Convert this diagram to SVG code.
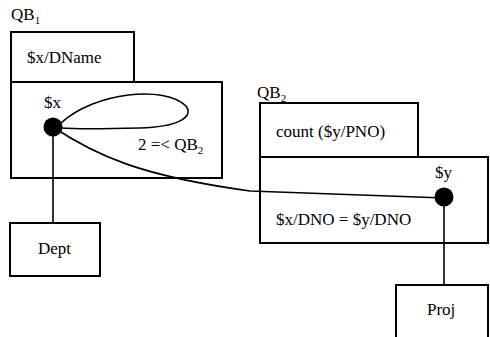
<svg xmlns="http://www.w3.org/2000/svg" width="490" height="337" viewBox="0 0 490 337">
<style>
text{font-family:"Liberation Serif","Times New Roman",serif;font-size:17px;fill:#000}
.box{fill:none;stroke:#000;stroke-width:2}
.ln{fill:none;stroke:#000;stroke-width:1.6}
.sub{font-size:11px}
</style>
<rect width="490" height="337" fill="#fff"/>
<g id="QB1">
<text x="11" y="20">QB<tspan class="sub" dy="4">1</tspan></text>
<rect class="box" x="11" y="32" width="123" height="50"/>
<text x="27" y="63">$x/DName</text>
<rect class="box" x="11" y="82" width="211" height="96"/>
<text x="44" y="108">$x</text>
<text x="138" y="150">2 =&lt; QB<tspan class="sub" dy="4">2</tspan></text>
</g>
<g id="QB2">
<text x="257" y="98">QB<tspan class="sub" dy="4">2</tspan></text>
<rect class="box" x="260" y="103" width="158" height="54"/>
<text x="276" y="137">count ($y/PNO)</text>
<rect class="box" x="260" y="157" width="228" height="86"/>
<text x="435" y="178">$y</text>
<text x="276" y="225">$x/DNO = $y/DNO</text>
</g>
<g id="Dept">
<rect class="box" x="10" y="223" width="90" height="53"/>
<text x="38" y="254">Dept</text>
</g>
<g id="Proj">
<rect class="box" x="396" y="285" width="92" height="70"/>
<text x="427" y="315">Proj</text>
</g>
<g id="connectors">
<path class="ln" d="M61,123 C95,92 165,85 186,106 C195,118 175,127 140,128 C100,129 75,129 60,128"/>
<path class="ln" d="M53,127 C95,155 140,176 250,191 L444,198"/>
<path class="ln" d="M53,127 V223"/>
<path class="ln" d="M444,197 V285"/>
<circle cx="53" cy="127" r="9.5" fill="#000"/>
<circle cx="444" cy="197" r="9.5" fill="#000"/>
</g>
</svg>
